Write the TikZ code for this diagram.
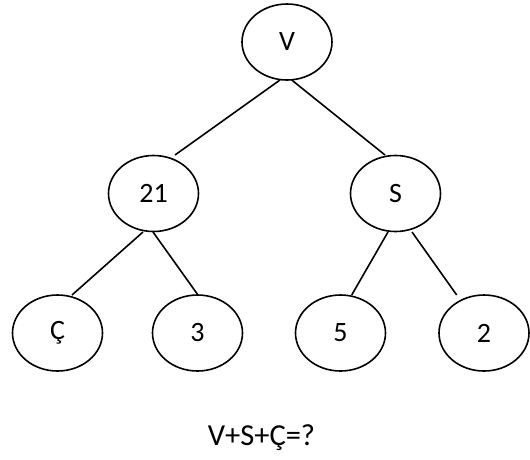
\documentclass[tikz,border=0pt]{standalone}
\usepackage{fontspec}
\setmainfont{Carlito}
\usetikzlibrary{shapes.geometric,calc}
\begin{document}
\begin{tikzpicture}[x=1pt,y=-1pt,
  tnode/.style={ellipse,draw,line width=1.6pt,minimum width=90pt,minimum height=76pt,inner sep=0pt,font=\fontsize{28}{33}\selectfont},
  edge/.style={line width=1.6pt}]
\useasboundingbox (0,0) rectangle (530,459);
\node[tnode] (V) at (287,42) {V};
\node[tnode] (n21) at (153.5,193.5) {21};
\node[tnode] (S) at (395.5,193.5) {S};
\node[tnode] (C) at (57.5,333) {Ç};
\node[tnode] (n3) at (197.5,333) {3};
\node[tnode] (n5) at (340.5,333) {5};
\node[tnode] (n2) at (484,333) {2};
\node[font=\fontsize{30.5}{36}\selectfont] (q) at (261.5,438) {V+S+Ç=?};
\draw[edge] ($(V.center)+(-7,38)$) -- ($(n21.center)+(21.5,-38.5)$);
\draw[edge] ($(V.center)+(4.7,38)$) -- ($(S.center)+(-10.5,-38.5)$);
\draw[edge] ($(n21.center)+(-10.5,38.5)$) -- ($(C.center)+(14.5,-38)$);
\draw[edge] ($(n21.center)+(-0.5,38.5)$) -- ($(n3.center)+(0.5,-38)$);
\draw[edge] ($(S.center)+(-7.5,38.5)$) -- ($(n5.center)+(11.2,-38)$);
\draw[edge] ($(S.center)+(16.5,38.5)$) -- ($(n2.center)+(-27.3,-38)$);
\end{tikzpicture}
\end{document}
